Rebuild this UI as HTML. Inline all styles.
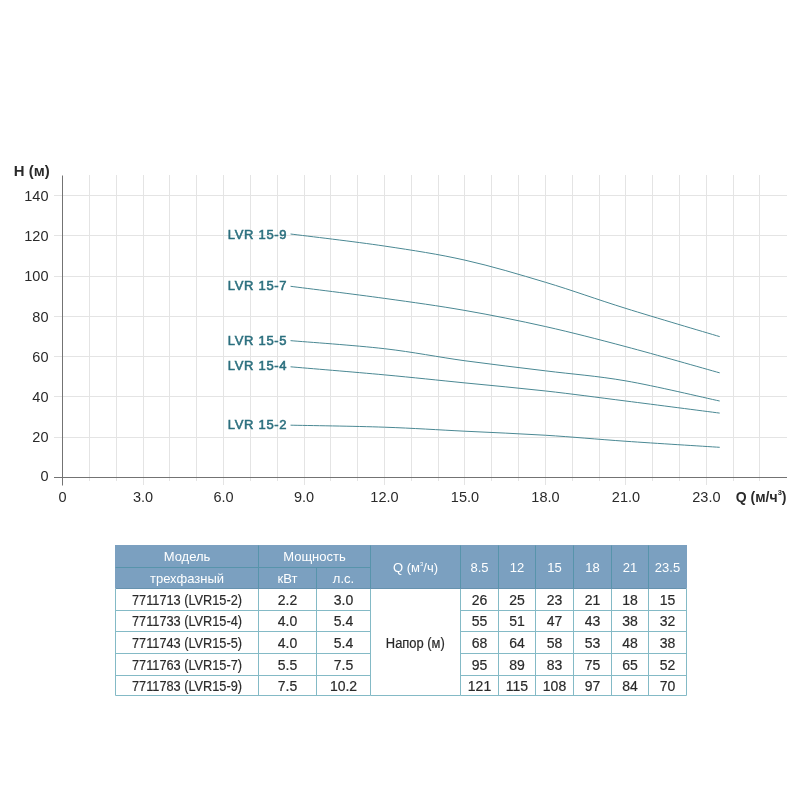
<!DOCTYPE html>
<html><head><meta charset="utf-8"><style>
html,body{margin:0;padding:0;background:#fff;width:800px;height:800px;overflow:hidden}
svg{display:block;will-change:transform}
text{font-family:"Liberation Sans",sans-serif}
.ax{font-size:14.5px;fill:#2a2a2a}
.axb{font-size:14.5px;font-weight:bold;fill:#2a2a2a}
.lbl{font-size:13px;fill:#2b6f7e;stroke:#2b6f7e;stroke-width:0.55px;letter-spacing:0.7px}
.th{font-size:13px;fill:#ffffff}
.td{font-size:14px;fill:#2a2a2a;stroke:#2a2a2a;stroke-width:0.2px}
</style></head><body>
<svg width="800" height="800" viewBox="0 0 800 800">
<line x1="89.50" y1="175" x2="89.50" y2="481" stroke="#e4e4e4" stroke-width="1"/>
<line x1="116.50" y1="175" x2="116.50" y2="481" stroke="#e4e4e4" stroke-width="1"/>
<line x1="143.50" y1="175" x2="143.50" y2="485" stroke="#e4e4e4" stroke-width="1"/>
<line x1="169.50" y1="175" x2="169.50" y2="481" stroke="#e4e4e4" stroke-width="1"/>
<line x1="196.50" y1="175" x2="196.50" y2="481" stroke="#e4e4e4" stroke-width="1"/>
<line x1="223.50" y1="175" x2="223.50" y2="485" stroke="#e4e4e4" stroke-width="1"/>
<line x1="250.50" y1="175" x2="250.50" y2="481" stroke="#e4e4e4" stroke-width="1"/>
<line x1="277.50" y1="175" x2="277.50" y2="481" stroke="#e4e4e4" stroke-width="1"/>
<line x1="304.50" y1="175" x2="304.50" y2="485" stroke="#e4e4e4" stroke-width="1"/>
<line x1="330.50" y1="175" x2="330.50" y2="481" stroke="#e4e4e4" stroke-width="1"/>
<line x1="357.50" y1="175" x2="357.50" y2="481" stroke="#e4e4e4" stroke-width="1"/>
<line x1="384.50" y1="175" x2="384.50" y2="485" stroke="#e4e4e4" stroke-width="1"/>
<line x1="411.50" y1="175" x2="411.50" y2="481" stroke="#e4e4e4" stroke-width="1"/>
<line x1="438.50" y1="175" x2="438.50" y2="481" stroke="#e4e4e4" stroke-width="1"/>
<line x1="464.50" y1="175" x2="464.50" y2="485" stroke="#e4e4e4" stroke-width="1"/>
<line x1="491.50" y1="175" x2="491.50" y2="481" stroke="#e4e4e4" stroke-width="1"/>
<line x1="518.50" y1="175" x2="518.50" y2="481" stroke="#e4e4e4" stroke-width="1"/>
<line x1="545.50" y1="175" x2="545.50" y2="485" stroke="#e4e4e4" stroke-width="1"/>
<line x1="572.50" y1="175" x2="572.50" y2="481" stroke="#e4e4e4" stroke-width="1"/>
<line x1="599.50" y1="175" x2="599.50" y2="481" stroke="#e4e4e4" stroke-width="1"/>
<line x1="625.50" y1="175" x2="625.50" y2="485" stroke="#e4e4e4" stroke-width="1"/>
<line x1="652.50" y1="175" x2="652.50" y2="481" stroke="#e4e4e4" stroke-width="1"/>
<line x1="679.50" y1="175" x2="679.50" y2="481" stroke="#e4e4e4" stroke-width="1"/>
<line x1="706.50" y1="175" x2="706.50" y2="485" stroke="#e4e4e4" stroke-width="1"/>
<line x1="733.50" y1="175" x2="733.50" y2="481" stroke="#e4e4e4" stroke-width="1"/>
<line x1="759.50" y1="175" x2="759.50" y2="481" stroke="#e4e4e4" stroke-width="1"/>
<line x1="54" y1="437.50" x2="787" y2="437.50" stroke="#e4e4e4" stroke-width="1"/>
<line x1="54" y1="396.50" x2="787" y2="396.50" stroke="#e4e4e4" stroke-width="1"/>
<line x1="54" y1="356.50" x2="787" y2="356.50" stroke="#e4e4e4" stroke-width="1"/>
<line x1="54" y1="316.50" x2="787" y2="316.50" stroke="#e4e4e4" stroke-width="1"/>
<line x1="54" y1="276.50" x2="787" y2="276.50" stroke="#e4e4e4" stroke-width="1"/>
<line x1="54" y1="235.50" x2="787" y2="235.50" stroke="#e4e4e4" stroke-width="1"/>
<line x1="54" y1="195.50" x2="787" y2="195.50" stroke="#e4e4e4" stroke-width="1"/>
<line x1="62.5" y1="175.5" x2="62.5" y2="485.5" stroke="#737373" stroke-width="1"/>
<line x1="54" y1="477.5" x2="787" y2="477.5" stroke="#737373" stroke-width="1"/>
<text x="48.5" y="480.70" text-anchor="end" class="ax">0</text>
<text x="48.5" y="442.45" text-anchor="end" class="ax">20</text>
<text x="48.5" y="402.20" text-anchor="end" class="ax">40</text>
<text x="48.5" y="361.95" text-anchor="end" class="ax">60</text>
<text x="48.5" y="321.70" text-anchor="end" class="ax">80</text>
<text x="48.5" y="281.45" text-anchor="end" class="ax">100</text>
<text x="48.5" y="241.20" text-anchor="end" class="ax">120</text>
<text x="48.5" y="200.95" text-anchor="end" class="ax">140</text>
<text x="62.50" y="501.6" text-anchor="middle" class="ax">0</text>
<text x="142.99" y="501.6" text-anchor="middle" class="ax">3.0</text>
<text x="223.48" y="501.6" text-anchor="middle" class="ax">6.0</text>
<text x="303.97" y="501.6" text-anchor="middle" class="ax">9.0</text>
<text x="384.46" y="501.6" text-anchor="middle" class="ax">12.0</text>
<text x="464.95" y="501.6" text-anchor="middle" class="ax">15.0</text>
<text x="545.44" y="501.6" text-anchor="middle" class="ax">18.0</text>
<text x="625.93" y="501.6" text-anchor="middle" class="ax">21.0</text>
<text x="706.42" y="501.6" text-anchor="middle" class="ax">23.0</text>
<text x="13.8" y="176" class="axb" textLength="35.8" lengthAdjust="spacingAndGlyphs">H (м)</text>
<text x="735.8" y="502" class="axb" style="font-size:14px">Q (м/ч<tspan font-size="7.5" dy="-7.5">3</tspan><tspan dy="7.5">)</tspan></text>
<path d="M290.55,425.18 C306.21,425.51 355.39,426.18 384.46,427.19 C413.53,428.19 438.12,429.87 464.95,431.21 C491.78,432.55 518.61,433.56 545.44,435.24 C572.27,436.91 596.89,439.26 625.93,441.27 C654.97,443.29 704.07,446.31 719.70,447.31" fill="none" stroke="#4a8893" stroke-width="1"/>
<text x="287.3" y="429.0" text-anchor="end" class="lbl">LVR 15-2</text>
<path d="M290.55,366.81 C306.21,368.15 355.39,372.18 384.46,374.86 C413.53,377.55 438.12,380.23 464.95,382.91 C491.78,385.60 518.61,387.94 545.44,390.96 C572.27,393.98 596.89,397.34 625.93,401.02 C654.97,404.71 704.07,411.09 719.70,413.10" fill="none" stroke="#4a8893" stroke-width="1"/>
<text x="287.3" y="370.0" text-anchor="end" class="lbl">LVR 15-4</text>
<path d="M290.55,340.65 C306.21,341.99 355.39,345.35 384.46,348.70 C413.53,352.05 438.12,357.09 464.95,360.77 C491.78,364.46 518.61,367.48 545.44,370.84 C572.27,374.19 596.89,375.87 625.93,380.90 C654.97,385.93 704.07,397.67 719.70,401.02" fill="none" stroke="#4a8893" stroke-width="1"/>
<text x="287.3" y="344.5" text-anchor="end" class="lbl">LVR 15-5</text>
<path d="M290.55,286.31 C306.21,288.32 355.39,294.36 384.46,298.39 C413.53,302.41 438.12,305.77 464.95,310.46 C491.78,315.16 518.61,320.52 545.44,326.56 C572.27,332.60 596.89,338.97 625.93,346.69 C654.97,354.40 704.07,368.49 719.70,372.85" fill="none" stroke="#4a8893" stroke-width="1"/>
<text x="287.3" y="289.8" text-anchor="end" class="lbl">LVR 15-7</text>
<path d="M290.55,233.99 C306.21,236.00 355.39,241.70 384.46,246.06 C413.53,250.42 438.12,254.11 464.95,260.15 C491.78,266.19 518.61,274.24 545.44,282.29 C572.27,290.34 596.89,299.39 625.93,308.45 C654.97,317.51 704.07,331.93 719.70,336.62" fill="none" stroke="#4a8893" stroke-width="1"/>
<text x="287.3" y="238.8" text-anchor="end" class="lbl">LVR 15-9</text>
<rect x="115.0" y="545.0" width="572.0" height="43.0" fill="#7ba0c0"/>
<line x1="115.5" y1="567.5" x2="370.5" y2="567.5" stroke="#5794ab" stroke-width="1"/>
<line x1="258.5" y1="545.5" x2="258.5" y2="588.5" stroke="#5794ab" stroke-width="1"/>
<line x1="370.5" y1="545.5" x2="370.5" y2="588.5" stroke="#5794ab" stroke-width="1"/>
<line x1="460.5" y1="545.5" x2="460.5" y2="588.5" stroke="#5794ab" stroke-width="1"/>
<line x1="498.5" y1="545.5" x2="498.5" y2="588.5" stroke="#5794ab" stroke-width="1"/>
<line x1="535.5" y1="545.5" x2="535.5" y2="588.5" stroke="#5794ab" stroke-width="1"/>
<line x1="573.5" y1="545.5" x2="573.5" y2="588.5" stroke="#5794ab" stroke-width="1"/>
<line x1="611.5" y1="545.5" x2="611.5" y2="588.5" stroke="#5794ab" stroke-width="1"/>
<line x1="648.5" y1="545.5" x2="648.5" y2="588.5" stroke="#5794ab" stroke-width="1"/>
<line x1="316.5" y1="567.5" x2="316.5" y2="588.5" stroke="#5794ab" stroke-width="1"/>
<line x1="115.5" y1="610.5" x2="370.5" y2="610.5" stroke="#84bac6" stroke-width="1"/>
<line x1="460.5" y1="610.5" x2="686.5" y2="610.5" stroke="#84bac6" stroke-width="1"/>
<line x1="115.5" y1="631.5" x2="370.5" y2="631.5" stroke="#84bac6" stroke-width="1"/>
<line x1="460.5" y1="631.5" x2="686.5" y2="631.5" stroke="#84bac6" stroke-width="1"/>
<line x1="115.5" y1="653.5" x2="370.5" y2="653.5" stroke="#84bac6" stroke-width="1"/>
<line x1="460.5" y1="653.5" x2="686.5" y2="653.5" stroke="#84bac6" stroke-width="1"/>
<line x1="115.5" y1="675.5" x2="370.5" y2="675.5" stroke="#84bac6" stroke-width="1"/>
<line x1="460.5" y1="675.5" x2="686.5" y2="675.5" stroke="#84bac6" stroke-width="1"/>
<line x1="115.5" y1="695.5" x2="370.5" y2="695.5" stroke="#84bac6" stroke-width="1"/>
<line x1="460.5" y1="695.5" x2="686.5" y2="695.5" stroke="#84bac6" stroke-width="1"/>
<line x1="370.5" y1="695.5" x2="460.5" y2="695.5" stroke="#84bac6" stroke-width="1"/>
<line x1="115.5" y1="588.5" x2="115.5" y2="695.5" stroke="#84bac6" stroke-width="1"/>
<line x1="258.5" y1="588.5" x2="258.5" y2="695.5" stroke="#84bac6" stroke-width="1"/>
<line x1="316.5" y1="588.5" x2="316.5" y2="695.5" stroke="#84bac6" stroke-width="1"/>
<line x1="370.5" y1="588.5" x2="370.5" y2="695.5" stroke="#84bac6" stroke-width="1"/>
<line x1="460.5" y1="588.5" x2="460.5" y2="695.5" stroke="#84bac6" stroke-width="1"/>
<line x1="498.5" y1="588.5" x2="498.5" y2="695.5" stroke="#84bac6" stroke-width="1"/>
<line x1="535.5" y1="588.5" x2="535.5" y2="695.5" stroke="#84bac6" stroke-width="1"/>
<line x1="573.5" y1="588.5" x2="573.5" y2="695.5" stroke="#84bac6" stroke-width="1"/>
<line x1="611.5" y1="588.5" x2="611.5" y2="695.5" stroke="#84bac6" stroke-width="1"/>
<line x1="648.5" y1="588.5" x2="648.5" y2="695.5" stroke="#84bac6" stroke-width="1"/>
<line x1="686.5" y1="588.5" x2="686.5" y2="695.5" stroke="#84bac6" stroke-width="1"/>
<line x1="115.5" y1="588.5" x2="686.5" y2="588.5" stroke="#6692ae" stroke-width="1"/>
<text x="187.00" y="560.70" text-anchor="middle" class="th" >Модель</text>
<text x="187.00" y="583.00" text-anchor="middle" class="th" >трехфазный</text>
<text x="314.50" y="560.70" text-anchor="middle" class="th" >Мощность</text>
<text x="287.50" y="583.00" text-anchor="middle" class="th" >кВт</text>
<text x="343.50" y="583.00" text-anchor="middle" class="th" >л.с.</text>
<text x="415.50" y="572.00" text-anchor="middle" class="th" >Q (м<tspan font-size="6" dy="-6">3</tspan><tspan dy="6">/ч)</tspan></text>
<text x="479.50" y="572.00" text-anchor="middle" class="th" >8.5</text>
<text x="517.00" y="572.00" text-anchor="middle" class="th" >12</text>
<text x="554.50" y="572.00" text-anchor="middle" class="th" >15</text>
<text x="592.50" y="572.00" text-anchor="middle" class="th" >18</text>
<text x="630.00" y="572.00" text-anchor="middle" class="th" >21</text>
<text x="667.50" y="572.00" text-anchor="middle" class="th" >23.5</text>
<text x="187.00" y="604.50" text-anchor="middle" class="td" textLength="110" lengthAdjust="spacingAndGlyphs">7711713 (LVR15-2)</text>
<text x="287.50" y="604.50" text-anchor="middle" class="td" >2.2</text>
<text x="343.50" y="604.50" text-anchor="middle" class="td" >3.0</text>
<text x="479.50" y="604.50" text-anchor="middle" class="td" >26</text>
<text x="517.00" y="604.50" text-anchor="middle" class="td" >25</text>
<text x="554.50" y="604.50" text-anchor="middle" class="td" >23</text>
<text x="592.50" y="604.50" text-anchor="middle" class="td" >21</text>
<text x="630.00" y="604.50" text-anchor="middle" class="td" >18</text>
<text x="667.50" y="604.50" text-anchor="middle" class="td" >15</text>
<text x="187.00" y="626.00" text-anchor="middle" class="td" textLength="110" lengthAdjust="spacingAndGlyphs">7711733 (LVR15-4)</text>
<text x="287.50" y="626.00" text-anchor="middle" class="td" >4.0</text>
<text x="343.50" y="626.00" text-anchor="middle" class="td" >5.4</text>
<text x="479.50" y="626.00" text-anchor="middle" class="td" >55</text>
<text x="517.00" y="626.00" text-anchor="middle" class="td" >51</text>
<text x="554.50" y="626.00" text-anchor="middle" class="td" >47</text>
<text x="592.50" y="626.00" text-anchor="middle" class="td" >43</text>
<text x="630.00" y="626.00" text-anchor="middle" class="td" >38</text>
<text x="667.50" y="626.00" text-anchor="middle" class="td" >32</text>
<text x="187.00" y="647.50" text-anchor="middle" class="td" textLength="110" lengthAdjust="spacingAndGlyphs">7711743 (LVR15-5)</text>
<text x="287.50" y="647.50" text-anchor="middle" class="td" >4.0</text>
<text x="343.50" y="647.50" text-anchor="middle" class="td" >5.4</text>
<text x="479.50" y="647.50" text-anchor="middle" class="td" >68</text>
<text x="517.00" y="647.50" text-anchor="middle" class="td" >64</text>
<text x="554.50" y="647.50" text-anchor="middle" class="td" >58</text>
<text x="592.50" y="647.50" text-anchor="middle" class="td" >53</text>
<text x="630.00" y="647.50" text-anchor="middle" class="td" >48</text>
<text x="667.50" y="647.50" text-anchor="middle" class="td" >38</text>
<text x="187.00" y="669.50" text-anchor="middle" class="td" textLength="110" lengthAdjust="spacingAndGlyphs">7711763 (LVR15-7)</text>
<text x="287.50" y="669.50" text-anchor="middle" class="td" >5.5</text>
<text x="343.50" y="669.50" text-anchor="middle" class="td" >7.5</text>
<text x="479.50" y="669.50" text-anchor="middle" class="td" >95</text>
<text x="517.00" y="669.50" text-anchor="middle" class="td" >89</text>
<text x="554.50" y="669.50" text-anchor="middle" class="td" >83</text>
<text x="592.50" y="669.50" text-anchor="middle" class="td" >75</text>
<text x="630.00" y="669.50" text-anchor="middle" class="td" >65</text>
<text x="667.50" y="669.50" text-anchor="middle" class="td" >52</text>
<text x="187.00" y="690.50" text-anchor="middle" class="td" textLength="110" lengthAdjust="spacingAndGlyphs">7711783 (LVR15-9)</text>
<text x="287.50" y="690.50" text-anchor="middle" class="td" >7.5</text>
<text x="343.50" y="690.50" text-anchor="middle" class="td" >10.2</text>
<text x="479.50" y="690.50" text-anchor="middle" class="td" >121</text>
<text x="517.00" y="690.50" text-anchor="middle" class="td" >115</text>
<text x="554.50" y="690.50" text-anchor="middle" class="td" >108</text>
<text x="592.50" y="690.50" text-anchor="middle" class="td" >97</text>
<text x="630.00" y="690.50" text-anchor="middle" class="td" >84</text>
<text x="667.50" y="690.50" text-anchor="middle" class="td" >70</text>
<text x="415.30" y="647.50" text-anchor="middle" class="td" textLength="59" lengthAdjust="spacingAndGlyphs">Напор (м)</text>
</svg>
</body></html>
